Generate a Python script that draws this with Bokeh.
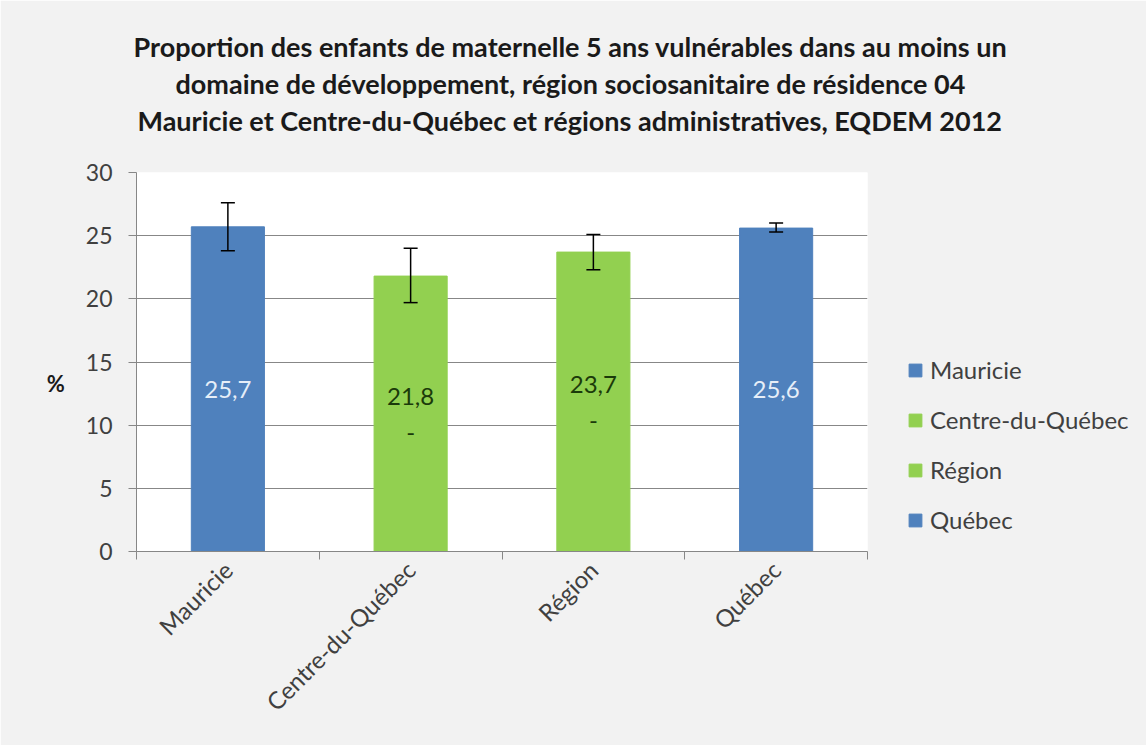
import math
from bokeh.plotting import figure
from bokeh.models import (ColumnDataSource, Whisker, TeeHead, FixedTicker, Legend,
                          LegendItem, Title, Range1d)
from bokeh.core.properties import value
from bokeh.embed import file_html
from bokeh.resources import INLINE

# ---- data ----
categories = ["Mauricie", "Centre-du-Québec", "Région", "Québec"]
values = [25.7, 21.8, 23.7, 25.6]
err_low = [23.8, 19.7, 22.3, 25.3]
err_high = [27.6, 24.0, 25.1, 26.0]
flags = ["", "-", "-", ""]
bar_colors = ["#4f81bd", "#92d050", "#92d050", "#4f81bd"]
label_colors = ["#e6eef8", "#1b3a0a", "#1b3a0a", "#e6eef8"]
y_ticks = [0, 5, 10, 15, 20, 25, 30]
title_lines = [
    "Proportion des enfants de maternelle 5 ans vulnérables dans au moins un",
    "domaine de développement, région sociosanitaire de résidence 04",
    "Mauricie et Centre-du-Québec et régions administratives, EQDEM 2012",
]
title_offsets = [-3, 39, 1]

FONT = "Lato"
TXT = "#404040"
GRID = "#878787"

xs = [i + 0.5 for i in range(len(categories))]
labels = [(f"{v:.1f}".replace(".", ",") + ("\n" + f if f else "")) for v, f in zip(values, flags)]

src = ColumnDataSource(dict(x=xs, top=values, mid=[v / 2 for v in values],
                            lo=err_low, hi=err_high, color=bar_colors,
                            lab=labels, lcol=label_colors, cat=categories))

p = figure(frame_width=731, frame_height=379, output_backend="svg", toolbar_location=None,
           x_range=Range1d(0, len(categories)), y_range=Range1d(0, 30),
           min_border_left=136, min_border_right=279, min_border_top=172,
           min_border_bottom=194)
p.background_fill_color = "white"
p.border_fill_color = "#f2f2f2"
p.outline_line_color = None

# spacer between title block and plot area, then title lines (closest first)
p.add_layout(Title(text=" ", text_font=FONT, text_font_size="27px", standoff=0), "above")
for i in [2, 1, 0]:
    p.add_layout(Title(text=title_lines[i], align="left", offset=title_offsets[i],
                       text_font=FONT, text_font_size="27px", text_font_style="bold",
                       text_color="#1a1a1a", standoff=2), "above")

bars = p.vbar(x="x", top="top", width=0.4, color="color", source=src)

w = Whisker(base="x", lower="lo", upper="hi", source=src, line_color="black",
            line_width=1.5, level="overlay",
            upper_head=TeeHead(size=14, line_color="black", line_width=1.5),
            lower_head=TeeHead(size=14, line_color="black", line_width=1.5))
p.add_layout(w)

p.text(x="x", y="mid", text="lab", text_color="lcol", source=src,
       text_align="center", text_baseline="middle", text_font=value(FONT),
       text_font_size="24px", text_line_height=1.25)

# axes
p.xgrid.visible = False
p.ygrid.grid_line_color = GRID
p.ygrid.grid_line_width = 1

p.yaxis.ticker = FixedTicker(ticks=y_ticks)
p.yaxis.axis_line_color = GRID
p.yaxis.major_tick_line_color = GRID
p.yaxis.major_tick_out = 8
p.yaxis.major_tick_in = 0
p.yaxis.minor_tick_line_color = None
p.yaxis.major_label_text_font = FONT
p.yaxis.major_label_text_font_size = "23px"
p.yaxis.major_label_text_color = TXT
p.yaxis.major_label_standoff = 16
p.yaxis.axis_label = "\n%"
p.yaxis.axis_label_orientation = "horizontal"
p.yaxis.axis_label_text_font = FONT
p.yaxis.axis_label_text_font_size = "22px"
p.yaxis.axis_label_text_font_style = "bold"
p.yaxis.axis_label_text_color = "#1a1a1a"
p.yaxis.axis_label_text_line_height = 1.6
p.yaxis.axis_label_standoff = 18

p.xaxis.ticker = FixedTicker(ticks=xs, minor_ticks=list(range(len(categories) + 1)))
p.xaxis.major_label_overrides = {x: c for x, c in zip(xs, categories)}
p.xaxis.axis_line_color = GRID
p.xaxis.major_tick_line_color = None
p.xaxis.major_tick_out = 0
p.xaxis.minor_tick_line_color = GRID
p.xaxis.minor_tick_out = 8
p.xaxis.minor_tick_in = 0
p.xaxis.major_label_orientation = math.pi / 4
p.xaxis.major_label_text_font = FONT
p.xaxis.major_label_text_font_size = "24px"
p.xaxis.major_label_text_color = TXT
p.xaxis.major_label_standoff = 6

# legend
items = [LegendItem(label=c, renderers=[bars], index=i) for i, c in enumerate(categories)]
leg = Legend(items=items, location=(40, 17), orientation="vertical",
             padding=0, margin=0, spacing=21, glyph_width=16, glyph_height=16,
             label_height=26, label_standoff=7, label_text_font=FONT,
             label_text_font_size="24px", label_text_color=TXT,
             border_line_color=None, background_fill_alpha=0)
p.add_layout(leg, "right")

open("out.html", "w").write(file_html(p, INLINE))
